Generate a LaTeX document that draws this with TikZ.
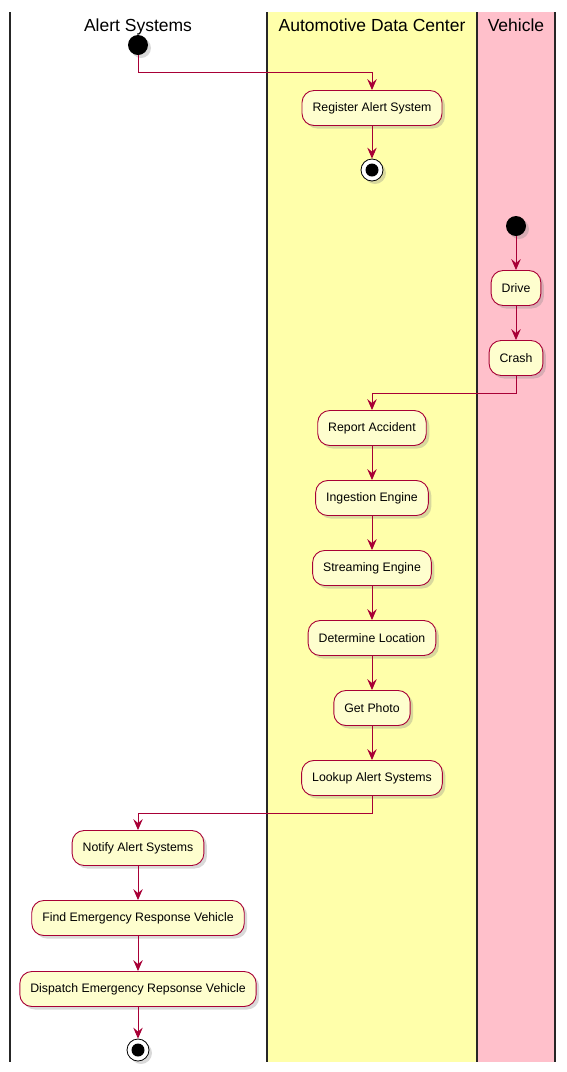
\documentclass[tikz,border=0pt]{standalone}
\usepackage{fontspec}
\setmainfont{Liberation Sans}
\usepackage{xcolor}
\usepackage{tikz}
\usetikzlibrary{arrows.meta, positioning, shadows}
\definecolor{plantRed}{HTML}{A80036}
\definecolor{plantCream}{HTML}{FEFECE}
\definecolor{laneYellow}{HTML}{FFFFAA}
\definecolor{lanePink}{HTML}{FFC0CB}
\tikzstyle{arrow} = [draw=plantRed, line width=0.9pt, -{Stealth[length=11pt, width=9.5pt, inset=4pt]}]
\tikzstyle{activity} = [rectangle, rounded corners=12pt, draw=plantRed, line width=0.9pt, fill=plantCream, minimum height=35pt, inner xsep=10.5pt, text centered, font=\fontsize{12.3}{14}\selectfont, drop shadow={shadow xshift=3pt, shadow yshift=-3pt, opacity=0.3}]
\tikzstyle{lanetitle} = [anchor=base, font=\fontsize{17.5}{20}\selectfont]
\tikzset{
	startdot/.style = {circle, fill=black, minimum size=20pt, inner sep=0pt,
		drop shadow={shadow xshift=3pt, shadow yshift=-3pt, opacity=0.3}},
	stopdot/.style = {circle, draw=black, line width=0.8pt, fill=white, minimum size=22pt, inner sep=0pt,
		drop shadow={shadow xshift=3pt, shadow yshift=-3pt, opacity=0.3},
		path picture={\fill[black] (path picture bounding box.center) circle (6.5pt);},
	}
}

\begin{document}
\begin{tikzpicture}[x=1pt, y=-1pt, node distance=70pt]
\useasboundingbox (0,0) rectangle (566,1072);
%----------------------------------------------------------------------------
% Swimlanes
\fill [laneYellow] (267,12) rectangle (477,1062);
\fill [lanePink] (477,12) rectangle (555,1062);
\foreach \lx in {10,267,477,555}
	\draw [line width=1.5pt, black!85] (\lx,12) -- (\lx,1062);

\node (laneAlert) [lanetitle] at (138,31) {Alert Systems};
\node (laneCenter) [lanetitle] at (372,31) {Automotive Data Center};
\node (laneVehicle) [lanetitle] at (516,31) {Vehicle};

%----------------------------------------------------------------------------
% Placement of activity nodes
\node (alertStart) [startdot] at (138,45) {};
\node (registerAlert) [activity] at (372,108) {Register Alert System};
\node (registerStop) [stopdot, below of = registerAlert, yshift=8pt] {};

\node (vehicleStart) [startdot] at (516,226) {};
\node (drive) [activity, below of = vehicleStart, yshift=8pt] {Drive};
\node (crash) [activity, below of = drive] {Crash};

\node (reportAccident) [activity] at (372,428) {Report Accident};
\node (ingestEngine) [activity, below of = reportAccident] {Ingestion Engine};
\node (streamEngine) [activity, below of = ingestEngine] {Streaming Engine};
\node (findLocation) [activity, below of = streamEngine] {Determine Location};
\node (getPhoto) [activity, below of = findLocation] {Get Photo};
\node (lookupAlert) [activity, below of = getPhoto] {Lookup Alert Systems};

\node (notifyAlert) [activity] at (138,848) {Notify Alert Systems};
\node (findVehicle) [activity, below of = notifyAlert] {Find Emergency Response Vehicle};
\node (dispatchVehicle) [activity, below of = findVehicle, yshift=-1pt] {Dispatch Emergency Repsonse Vehicle};
\node (alertStop) [stopdot, below of = dispatchVehicle, yshift=9pt] {};

%----------------------------------------------------------------------------
% Lines
\draw [arrow] (alertStart) -- ++(0,27) -| (registerAlert);
\draw [arrow] (registerAlert) -- (registerStop);

\draw [arrow] (vehicleStart) -- (drive);
\draw [arrow] (drive) -- (crash);
\draw [arrow] (crash) -- ++(0,35) -| (reportAccident);

\draw [arrow] (reportAccident) -- (ingestEngine);
\draw [arrow] (ingestEngine) -- (streamEngine);
\draw [arrow] (streamEngine) -- (findLocation);
\draw [arrow] (findLocation) -- (getPhoto);
\draw [arrow] (getPhoto) -- (lookupAlert);
\draw [arrow] (lookupAlert) -- ++(0,35) -| (notifyAlert);

\draw [arrow] (notifyAlert) -- (findVehicle);
\draw [arrow] (findVehicle) -- (dispatchVehicle);
\draw [arrow] (dispatchVehicle) -- (alertStop);

\end{tikzpicture}
\end{document}
